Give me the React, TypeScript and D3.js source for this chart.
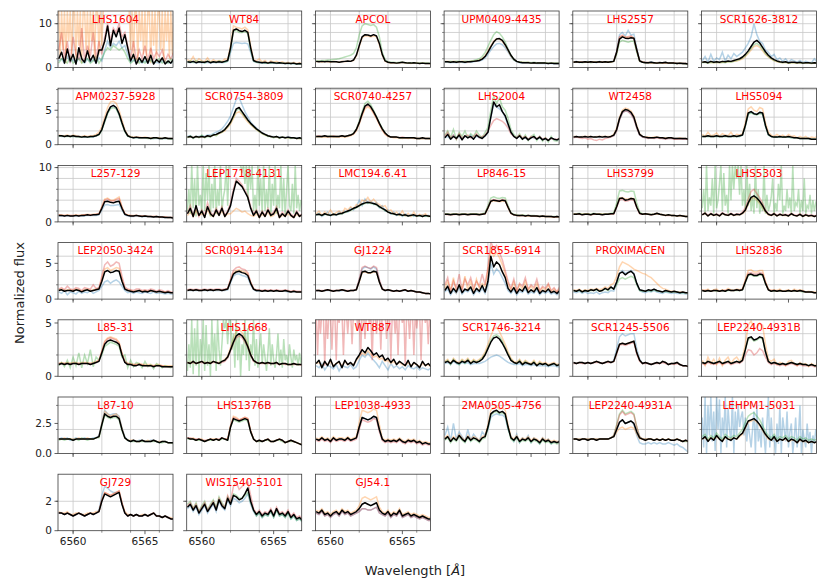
import * as d3 from 'd3';

// H-alpha profiles, one panel per star, flux values are x10
const panelNames = [
  'LHS1604', 'WT84', 'APCOL', 'UPM0409-4435', 'LHS2557', 'SCR1626-3812',
  'APM0237-5928', 'SCR0754-3809', 'SCR0740-4257', 'LHS2004', 'WT2458', 'LHS5094',
  'L257-129', 'LEP1718-4131', 'LMC194.6.41', 'LP846-15', 'LHS3799', 'LHS5303',
  'LEP2050-3424', 'SCR0914-4134', 'GJ1224', 'SCR1855-6914', 'PROXIMACEN', 'LHS2836',
  'L85-31', 'LHS1668', 'WT887', 'SCR1746-3214', 'SCR1245-5506', 'LEP2240-4931B',
  'L87-10', 'LHS1376B', 'LEP1038-4933', '2MA0505-4756', 'LEP2240-4931A', 'LEHPM1-5031',
  'GJ729', 'WIS1540-5101', 'GJ54.1',
];

const rowYMax = [12.9, 8.2, 10.4, 7.9, 5.3, 4.7, 3.84];
const rowYTicks = [[0, 10], [0, 5], [0, 10], [0, 5], [0, 5], [0, 2.5], [0, 2]];
const rowTickFormat = ['d', 'd', 'd', 'd', 'd', '.1f', 'd'];
const xTicks = [6560, 6565];
const waveStart = 6559;
const waveEnd = 6567;

const medianFlux: number[][] = [
  [20,35,10,42,15,30,8,45,20,12,38,15,28,10,40,40,60,95,50,85,70,90,55,75,45,15,30,8,22,12,25,10,28,8,18,12,22,8,15,10,20],
  [13,12,14,11,13,12,12,14,11,13,12,13,12,14,16,45,85,88,84,82,85,80,45,16,13,12,11,12,10,12,11,10,11,10,9,10,9,10,8,9,8],
  [14,13,14,13,14,13,13,13,12,13,14,15,14,17,28,50,70,75,74,72,75,72,55,30,15,12,11,11,10,11,12,11,10,10,11,10,9,10,9,9,9],
  [13,13,12,13,12,13,13,12,13,13,14,15,16,19,25,35,47,58,65,66,62,52,40,28,19,14,12,11,11,11,10,11,10,10,10,10,9,10,9,9,9],
  [12,13,12,12,13,12,13,12,12,13,12,13,12,13,14,35,65,70,67,66,68,67,40,15,12,11,11,12,11,10,11,11,12,10,10,10,9,10,9,9,8],
  [12,13,11,14,12,13,12,14,13,15,14,16,18,20,24,30,38,48,58,62,56,46,36,28,22,18,15,13,12,13,11,12,12,11,12,10,11,11,10,11,10],
  [13,13,12,13,12,13,12,12,11,12,11,12,12,13,15,22,35,47,55,57,54,45,32,20,13,11,10,11,10,10,10,10,9,10,10,9,9,10,9,9,9],
  [11,12,10,12,11,12,11,13,12,14,15,17,19,22,27,33,42,52,54,48,42,36,31,27,23,20,17,15,13,12,11,12,10,11,10,11,10,10,9,10,9],
  [12,12,12,13,12,12,12,12,12,13,12,13,14,16,22,32,45,56,59,55,48,40,31,23,17,13,11,11,11,10,10,10,10,10,10,9,9,10,9,9,9],
  [10,15,8,12,9,14,7,13,10,12,8,14,11,9,13,18,40,62,55,58,48,42,30,18,12,9,13,8,11,7,10,12,8,11,7,9,6,10,8,7,9],
  [11,12,11,11,12,11,12,11,11,12,11,12,11,12,14,22,38,48,51,50,47,40,26,15,12,11,10,10,10,11,10,10,9,10,10,9,9,9,9,9,8],
  [12,12,13,12,12,13,12,12,13,12,12,13,12,13,14,28,46,48,45,44,47,46,28,15,12,11,11,12,11,11,12,11,10,10,9,9,9,9,8,8,8],
  [12,12,11,12,11,11,12,11,12,12,13,12,13,13,14,25,37,38,36,35,37,38,25,14,12,11,11,12,11,10,11,10,10,9,10,9,9,8,8,8,7],
  [15,25,10,30,12,20,8,28,15,10,22,12,25,10,18,30,55,75,70,65,55,45,25,12,20,8,18,10,22,12,15,25,8,15,10,20,12,8,18,10,14],
  [13,14,12,15,13,12,14,13,15,16,18,20,22,25,27,30,33,35,36,35,34,32,28,25,22,18,16,15,13,14,12,13,11,12,13,11,12,10,12,11,10],
  [14,14,13,14,14,13,14,14,13,14,14,14,13,14,15,26,38,40,39,38,40,39,27,16,13,12,12,12,11,12,11,11,11,10,11,10,10,10,9,10,9],
  [14,14,15,13,14,14,13,15,14,14,13,14,14,15,15,28,43,44,40,41,43,42,27,16,14,15,14,13,14,16,14,13,12,13,12,12,11,12,11,10,10],
  [13,16,11,15,12,14,11,16,13,12,15,12,14,13,16,22,35,45,48,44,38,30,20,14,12,15,11,14,12,13,11,15,12,11,14,10,13,11,12,10,12],
  [12,13,11,12,12,11,13,12,10,12,13,11,12,13,14,25,38,40,37,38,40,39,25,14,12,11,10,11,12,10,11,10,12,11,10,11,10,9,10,9,9],
  [12,13,12,13,12,12,13,12,13,12,13,13,12,13,14,25,35,38,39,37,36,33,22,14,12,12,11,12,11,12,11,12,11,11,12,11,10,11,10,10,10],
  [12,12,11,12,13,12,11,12,12,13,12,11,12,12,13,25,38,39,37,37,39,38,24,14,12,13,12,11,12,11,12,13,11,12,11,10,10,9,8,8,7],
  [12,18,8,15,10,20,9,14,12,17,8,15,11,19,10,25,60,45,52,48,38,30,15,10,16,8,14,11,18,9,13,10,16,8,12,10,14,9,11,8,12],
  [12,11,13,10,12,11,13,12,14,11,12,15,13,17,14,24,36,38,34,37,39,35,22,13,12,11,13,12,14,12,11,10,12,11,10,11,10,9,10,9,9],
  [12,11,12,11,12,12,11,12,11,13,12,12,13,12,13,24,34,35,33,33,35,34,22,13,11,12,11,12,11,11,12,11,12,11,12,11,10,10,10,9,9],
  [11,12,11,12,11,12,12,11,12,12,12,11,12,13,14,22,30,33,34,33,32,30,20,13,11,11,10,10,11,10,10,10,10,9,10,10,9,9,9,9,9],
  [13,12,14,12,13,14,12,13,12,14,13,12,14,15,18,25,32,38,40,38,34,28,20,15,13,12,13,12,13,12,12,13,11,12,12,11,11,12,11,11,11],
  [12,15,8,14,10,16,9,12,14,8,15,11,13,10,16,20,25,22,27,24,20,22,18,20,15,17,13,16,11,14,12,10,15,9,13,11,8,14,10,12,9],
  [13,14,12,15,13,12,14,13,15,12,14,13,14,16,20,26,32,36,37,35,31,26,20,15,13,12,14,11,13,12,11,13,10,12,11,12,10,11,12,10,11],
  [13,12,13,13,12,13,12,13,14,13,12,13,14,13,14,22,30,31,30,31,32,33,22,15,12,13,12,11,12,13,12,14,13,11,12,12,13,11,10,10,9],
  [13,12,14,13,12,13,14,12,13,14,12,13,14,13,15,25,36,37,34,35,37,36,23,14,12,13,12,11,12,11,12,13,12,11,12,11,11,10,11,10,10],
  [12,12,12,12,12,11,12,12,12,12,12,12,12,13,14,24,33,31,30,31,31,29,20,13,11,10,11,10,10,11,10,10,10,11,10,9,10,10,9,9,9],
  [13,12,12,11,12,11,10,11,12,11,12,11,13,12,11,22,29,28,27,28,29,28,18,12,10,11,10,11,12,10,10,11,12,11,9,10,11,10,9,8,7],
  [12,11,13,11,12,10,13,11,12,12,11,13,11,12,13,22,30,29,28,29,31,30,20,12,10,11,10,11,10,12,10,9,11,10,11,9,10,8,9,8,8],
  [12,14,10,13,11,15,12,10,14,11,13,12,10,13,14,22,33,35,36,34,35,33,22,13,11,14,10,12,11,13,10,12,11,9,12,10,11,9,10,9,10],
  [12,12,11,12,12,11,12,12,11,12,12,12,12,13,14,20,26,28,25,26,27,25,18,13,12,11,12,12,11,12,11,12,11,12,11,11,12,11,10,11,10],
  [12,14,10,13,11,15,12,10,14,12,11,13,12,15,17,22,27,28,29,27,24,20,16,13,11,14,10,12,11,13,10,12,11,9,12,10,11,9,10,9,10],
  [12,12,11,12,11,10,11,12,11,10,11,12,11,12,13,20,25,24,23,24,25,26,18,12,10,11,10,11,10,10,11,10,11,12,10,10,9,10,9,8,8],
  [16,18,14,17,12,15,18,13,16,19,14,21,17,15,22,18,24,23,21,22,25,29,20,14,11,13,10,12,11,14,10,15,11,12,10,13,9,11,8,9,7],
  [13,12,14,11,12,10,12,13,11,14,12,13,11,12,13,15,18,19,18,17,18,19,14,12,11,13,10,12,11,14,10,11,12,10,11,10,9,10,9,8,8],
];

const blueFlux: number[][] = [
  [15,20,10,25,12,18,10,22,15,10,20,12,18,10,22,15,40,60,45,55,50,60,45,50,30,12,18,10,15,10,15,10,18,10,12,10,15,10,12,10,15],
  [12,11,13,10,12,11,11,12,10,12,11,12,11,12,14,35,55,57,56,55,56,54,35,14,12,11,10,11,10,11,10,9,10,9,9,9,8,9,8,8,8],
  [],
  [12,12,11,12,11,12,12,11,12,12,13,14,15,17,22,30,40,48,54,55,52,45,35,25,17,13,11,10,10,10,10,10,9,9,9,9,9,9,8,8,8],
  [12,14,11,13,12,14,12,13,11,14,12,13,12,14,15,38,75,80,72,85,74,76,45,16,12,12,11,13,10,11,12,10,11,10,10,9,10,9,9,8,8],
  [15,25,12,30,14,22,18,35,15,28,20,32,25,30,35,45,55,70,100,75,60,55,40,35,25,30,18,22,14,20,12,18,15,12,16,11,14,12,11,20,12],
  [13,12,12,13,12,12,12,12,11,11,11,12,11,13,15,22,34,46,54,56,53,44,31,20,13,11,10,10,10,10,10,10,9,9,9,9,9,9,9,9,8],
  [12,13,11,12,12,13,12,14,14,16,18,20,23,28,34,42,54,66,68,58,48,40,33,28,24,20,17,15,13,12,12,11,11,11,10,11,10,10,10,10,9],
  [],
  [10,12,8,14,10,12,9,12,10,14,9,12,10,11,12,18,40,58,55,52,48,40,28,18,12,10,12,9,10,8,10,10,8,10,8,9,7,9,8,7,8],
  [11,11,11,11,11,11,11,11,11,11,11,11,11,12,13,21,36,46,49,48,45,38,25,14,11,10,10,10,10,10,10,9,9,9,9,9,9,9,8,8,8],
  [12,12,12,12,12,12,12,12,12,12,12,12,12,12,14,27,45,47,45,44,46,45,27,14,12,11,11,11,11,11,11,10,10,10,9,9,9,9,8,8,8],
  [11,11,11,11,11,11,11,11,11,11,12,12,12,12,13,22,31,32,30,30,31,32,22,13,11,10,10,11,10,10,10,10,9,9,9,9,8,8,8,8,7],
  [],
  [12,16,10,14,18,11,15,12,18,14,20,18,26,22,28,40,30,42,34,38,32,36,26,30,20,22,14,18,12,16,10,15,12,14,10,12,11,13,10,12,9],
  [],
  [],
  [],
  [10,8,12,6,10,9,7,11,8,10,9,12,8,10,12,18,24,26,22,25,27,24,18,12,9,10,8,10,9,8,10,9,8,10,8,9,8,7,8,7,7],
  [12,12,12,12,12,12,12,12,12,12,12,12,12,12,13,23,32,35,35,33,32,30,20,13,11,11,11,11,11,11,11,11,11,11,11,10,10,10,10,10,10],
  [11,12,11,12,12,12,11,12,11,12,12,11,12,12,13,27,42,45,44,42,45,42,26,14,12,12,12,11,12,11,12,12,11,11,11,10,10,9,8,8,7],
  [10,14,6,12,8,16,7,12,10,14,6,12,9,15,8,20,50,35,42,38,30,22,12,8,13,6,11,9,14,7,10,8,13,6,10,8,11,7,9,6,10],
  [10,9,11,8,10,8,9,8,10,7,9,10,9,12,11,22,36,40,36,38,40,36,22,12,10,9,11,10,12,10,9,8,10,9,8,9,8,8,8,7,7],
  [],
  [],
  [],
  [10,8,12,6,10,9,7,11,5,10,9,8,11,7,9,15,20,18,22,18,15,12,8,14,10,6,12,8,10,7,9,6,10,8,7,9,6,8,7,6,8],
  [12,13,11,14,12,11,13,12,13,11,12,12,12,13,14,16,18,19,20,19,17,15,13,12,11,11,12,10,11,11,10,11,10,10,10,10,9,10,10,9,9],
  [13,12,13,13,12,13,12,13,14,13,12,13,14,13,15,26,37,40,38,39,40,40,26,16,12,13,12,11,12,13,12,14,13,11,12,12,13,11,10,10,9],
  [],
  [12,13,12,13,11,12,13,12,12,13,12,12,13,13,15,25,36,33,32,33,33,31,21,14,11,10,11,10,11,11,10,10,11,11,10,9,10,10,9,9,9],
  [],
  [12,11,13,11,12,10,13,11,12,12,11,13,11,12,13,22,30,29,28,29,30,29,20,12,10,11,10,11,10,12,10,9,11,10,11,9,10,8,9,8,8],
  [15,22,10,25,12,18,14,10,20,11,16,13,10,18,15,20,30,32,33,32,32,30,20,14,10,16,9,13,11,15,9,13,11,8,13,10,12,8,10,9,11],
  [12,12,11,12,12,11,12,12,11,12,12,12,12,13,14,20,26,28,25,26,27,24,15,9,8,8,9,8,9,8,9,8,8,9,8,7,8,6,5,3,1],
  [30,5,47,0,40,15,47,10,35,2,47,20,45,0,30,15,47,5,38,20,10,47,0,35,15,40,22,30,35,15,30,10,25,15,5,20,35,0,40,10,20,5,30,15,0,25,47,5,30,10,15,0,25,8,40,0,30,20,10,35,5,18,25,0,12,30,5,15,40,0,20,12,5,25,10,18,0,15,8,20,12],
  [12,12,11,12,11,10,11,12,11,10,11,12,11,12,14,24,30,29,27,26,26,26,18,12,10,11,10,11,10,10,11,10,11,12,10,10,9,10,9,8,8],
  [15,17,13,16,11,14,17,12,15,18,13,20,16,14,21,17,22,21,19,20,22,25,18,13,10,12,9,11,10,13,9,14,10,11,9,12,8,10,7,8,6],
  [12,11,13,10,11,9,11,12,10,13,11,12,10,11,12,13,15,15,14,14,15,16,12,11,10,12,9,11,10,13,9,10,11,9,10,9,8,9,8,7,7],
];

const orangeFlux: number[][] = [
  [130,20,130,40,130,10,130,60,130,30,130,130,20,130,50,130,10,130,130,40,130,20,130,60,130,15,130,130,30,130,50,130,130,130,130,130,130,130,130,130,130,130,130,130,130,130,130,130,130,130,40,130,20,130,130,10,130,60,130,30,130,25,130,130,10,130,50,130,20,130,130,40,130,15,130,60,130,20,130,30,130],
  [18,14,25,12,20,15,13,22,12,18,14,16,13,20,18,50,95,92,90,88,92,86,50,18,15,20,12,16,10,15,12,14,11,13,10,12,9,12,9,11,8],
  [13,14,12,14,13,12,14,13,12,14,13,14,14,16,26,48,68,72,72,70,72,70,52,28,14,12,10,11,10,10,12,10,10,9,10,10,9,10,9,9,8],
  [13,14,12,14,13,12,14,13,12,14,14,15,17,20,27,38,50,60,66,65,60,50,38,26,18,14,12,12,11,12,10,11,10,11,10,10,9,10,9,9,9],
  [13,12,13,12,12,13,12,13,12,12,13,12,13,12,15,34,68,72,70,68,70,68,40,15,13,11,12,11,11,11,11,10,11,10,10,10,9,10,9,9,8],
  [12,12,11,12,11,12,11,12,12,13,13,14,15,17,20,25,32,40,48,50,46,38,30,24,19,16,13,12,11,12,10,11,11,10,11,10,10,10,9,10,9],
  [14,13,13,14,12,14,13,12,12,13,12,13,13,15,18,26,40,54,62,63,60,50,36,22,14,12,11,11,11,10,11,10,10,10,10,10,9,10,9,9,9],
  [11,12,11,12,11,12,11,13,12,14,14,16,18,20,25,30,38,46,48,44,38,33,29,25,22,19,16,14,13,12,11,11,10,11,10,10,10,10,9,9,9],
  [11,12,11,12,11,12,11,11,11,12,11,12,13,15,20,30,42,52,55,52,45,38,29,21,15,12,11,10,10,10,9,10,9,10,9,9,9,9,9,9,8],
  [],
  [12,12,11,12,12,12,12,11,12,12,12,12,12,12,15,24,40,50,53,52,49,42,28,16,12,11,11,10,11,11,10,10,10,10,10,9,9,10,9,9,8],
  [15,12,18,13,14,17,12,16,14,13,18,12,15,14,16,32,52,55,50,48,54,52,32,18,14,12,15,12,14,11,15,12,13,10,12,10,12,9,11,10,12],
  [13,13,12,13,12,12,13,12,13,13,14,13,14,14,15,28,42,44,40,40,43,46,28,15,13,12,12,12,11,11,11,10,10,10,10,9,9,9,8,8,8],
  [12,18,10,20,12,15,10,22,12,10,18,12,20,10,15,15,20,25,22,18,20,15,12,10,15,8,14,10,18,10,12,20,8,12,10,15,10,8,14,10,12],
  [15,20,12,18,14,22,13,17,20,15,25,22,28,24,32,30,40,38,45,36,42,35,32,28,30,20,22,15,18,12,20,11,16,10,18,10,14,12,15,10,12],
  [14,14,13,14,14,13,14,14,13,14,14,14,13,14,15,25,37,39,38,37,38,38,26,15,13,12,11,12,11,11,11,11,10,10,10,10,10,9,9,9,9],
  [14,15,14,14,14,15,13,14,14,15,14,14,14,15,15,29,44,45,42,42,44,43,28,16,14,15,14,13,14,16,14,13,12,13,12,12,11,12,11,10,10],
  [13,15,11,14,12,13,11,15,13,12,14,12,13,13,15,20,32,42,45,40,34,26,18,13,12,14,11,13,12,12,11,14,12,11,13,10,12,11,11,10,11],
  [13,14,12,13,13,12,14,13,11,13,14,12,13,14,15,28,42,44,40,42,44,43,28,15,13,12,11,12,12,11,12,11,12,11,10,11,10,10,10,9,9],
  [12,13,12,13,12,12,13,12,13,12,13,13,12,13,14,26,37,40,41,39,38,35,23,14,12,12,11,12,11,12,11,12,11,11,12,11,10,11,10,10,10],
  [12,12,11,12,13,12,11,12,12,13,12,11,12,12,13,24,37,38,36,36,38,37,24,14,12,13,12,11,12,11,12,13,11,12,11,10,10,9,8,8,7],
  [15,25,12,30,10,20,15,32,12,25,10,28,15,22,18,40,70,60,65,58,48,35,22,12,24,10,20,14,25,12,18,12,22,10,16,12,20,10,14,10,15],
  [13,12,14,11,13,12,14,13,15,13,14,17,15,20,22,32,45,52,50,48,45,42,40,38,36,35,32,30,26,22,18,15,14,12,11,11,10,10,10,9,9],
  [13,12,14,11,13,14,11,13,12,15,13,12,14,13,14,27,40,41,38,38,40,40,25,14,12,13,12,14,11,12,13,11,14,12,13,12,10,11,10,10,10],
  [12,13,12,13,12,13,13,12,13,13,13,12,13,14,15,24,33,36,37,36,35,32,22,14,12,12,11,11,12,11,11,11,11,10,11,11,10,10,10,10,10],
  [13,13,14,12,13,14,13,13,13,14,13,13,14,16,19,27,35,42,44,41,36,30,21,15,13,12,13,12,13,12,12,13,11,12,12,11,11,12,11,11,11],
  [12,13,10,13,11,14,10,12,13,10,14,11,12,11,15,18,22,20,24,21,18,19,16,17,14,15,12,14,11,13,11,10,13,10,12,11,9,12,10,11,9],
  [14,16,12,17,14,13,16,14,17,13,16,14,16,18,23,30,38,44,46,42,36,30,23,17,14,13,16,12,15,13,12,15,11,14,12,13,11,12,13,11,12],
  [13,12,13,13,12,13,12,13,14,13,12,13,14,13,14,22,30,31,30,31,32,33,22,15,12,13,12,11,12,13,12,14,13,11,12,12,13,11,10,10,9],
  [15,10,18,12,16,11,17,10,15,18,12,16,18,14,18,30,48,52,45,46,50,48,30,16,14,16,11,13,12,10,14,15,12,10,13,11,12,9,12,10,11],
  [12,12,13,12,12,12,12,13,12,12,13,12,12,13,14,25,35,33,31,32,33,30,21,13,11,11,11,10,10,11,10,11,10,11,10,10,10,10,9,9,9],
  [13,12,13,11,12,12,10,11,12,12,12,11,13,12,12,23,31,30,28,29,30,29,19,12,10,11,10,11,12,10,10,11,12,11,9,10,11,10,9,8,8],
  [13,12,14,12,13,11,14,12,13,13,12,14,12,13,14,26,36,35,34,35,37,36,24,13,11,12,11,12,11,13,11,10,12,11,12,10,11,9,10,9,9],
  [13,15,11,14,12,16,13,11,15,12,14,13,11,14,15,24,36,38,39,37,38,36,24,14,12,15,11,13,12,14,11,13,12,10,13,11,12,10,11,10,10],
  [12,12,11,12,12,11,12,12,11,12,12,12,12,13,14,18,21,22,20,21,22,21,16,12,12,11,12,12,11,12,11,12,11,12,11,11,12,11,10,11,10],
  [12,13,11,13,12,14,12,11,13,12,12,13,12,14,16,21,26,27,28,26,23,19,15,12,11,13,10,12,11,12,10,11,11,9,11,10,10,9,10,9,9],
  [13,12,12,13,11,11,12,12,11,11,12,12,12,13,13,21,26,25,24,25,26,27,19,13,11,11,10,11,10,11,11,10,11,12,10,10,9,10,9,9,8],
  [],
  [14,13,15,12,13,11,13,14,12,15,13,14,12,13,14,17,22,23,22,21,22,23,16,13,12,14,11,13,12,15,11,12,13,11,12,11,10,11,10,9,9],
];

const greenFlux: number[][] = [
  [10,20,15,10,25,10,15,20,10,15,20,10,15,25,10,20,35,45,40,50,45,40,45,35,20,10,15,20,10,15,10,20,15,10,15,20,10,15,10,20,10],
  [12,15,11,16,12,14,10,15,12,13,11,15,13,12,15,42,82,85,80,80,82,78,40,15,12,11,12,10,11,10,12,10,10,10,9,9,9,9,8,8,8],
  [15,15,16,16,17,17,18,19,20,22,24,26,28,32,45,75,95,100,98,96,98,92,70,35,18,13,12,12,11,12,12,11,11,11,11,10,10,10,10,10,9],
  [14,13,14,13,14,14,13,14,14,15,16,18,20,25,34,48,62,75,82,78,70,58,42,28,18,14,13,12,12,12,11,12,11,11,11,11,10,10,10,10,10],
  [12,12,13,11,12,13,11,12,13,12,12,12,13,12,14,30,58,62,60,58,60,60,35,14,12,11,11,11,10,11,10,11,10,10,10,9,9,9,9,8,8],
  [11,12,10,12,11,12,11,12,11,13,12,14,16,18,22,27,35,44,52,55,50,42,32,25,20,16,14,12,11,12,10,11,11,10,10,10,10,10,9,10,9],
  [12,13,12,12,12,12,12,11,11,12,11,11,12,13,14,21,33,45,52,54,52,43,30,19,12,11,10,10,10,10,10,9,9,9,10,9,9,9,9,8,9],
  [10,13,9,12,10,14,10,12,11,15,13,17,18,22,26,32,40,50,52,46,40,35,30,26,22,19,16,14,12,12,10,12,9,11,10,10,9,10,9,9,8],
  [12,12,12,12,12,13,12,12,12,13,12,13,14,17,23,34,48,60,63,58,50,41,32,24,17,13,11,11,11,10,10,10,10,10,10,9,9,9,9,9,9],
  [14,20,10,22,8,18,12,20,10,16,12,20,14,10,18,25,50,70,60,68,55,50,38,22,15,10,16,8,14,6,12,15,6,12,5,10,4,12,6,5,10],
  [],
  [12,12,12,12,12,12,12,12,12,12,12,12,12,12,14,27,44,46,44,43,45,44,27,14,12,11,11,11,11,11,11,10,10,10,9,9,9,9,8,8,8],
  [],
  [20,60,15,105,25,80,10,105,30,50,15,105,20,90,40,105,10,70,25,105,15,60,30,105,20,45,60,105,30,105,105,105,105,105,105,105,105,105,90,105,70,105,40,105,60,105,20,50,15,105,30,80,15,105,20,60,25,105,10,70,30,105,15,50,25,105,20,80,10,60,105,30,20,70,15,105,25,50,20,40,30],
  [13,14,12,14,13,12,14,13,14,15,17,19,21,24,26,29,32,34,35,34,33,31,27,24,21,18,16,14,13,13,12,12,11,12,12,11,11,10,11,10,10],
  [15,15,14,15,15,14,15,15,14,15,15,15,14,15,17,30,44,46,44,43,45,44,30,17,14,13,12,13,12,12,12,12,11,11,11,10,10,10,10,10,9],
  [15,15,16,14,15,15,14,16,15,15,14,15,15,16,17,35,57,58,56,55,57,56,35,18,15,15,14,14,14,15,14,13,12,13,12,12,11,11,11,10,10],
  [25,60,15,105,20,45,30,80,15,105,25,40,70,105,20,90,30,50,15,105,40,105,60,105,80,105,50,105,30,60,20,105,30,70,20,45,15,105,25,60,15,35,20,105,15,50,20,30,45,80,15,35,20,70,40,105,15,30,20,60,25,45,15,105,20,35,30,60,15,40,20,80,15,30,25,50,15,40,20,35,30],
  [],
  [],
  [],
  [],
  [12,11,12,10,12,11,12,12,13,11,12,14,12,16,14,20,28,30,28,30,32,30,20,12,11,11,12,11,13,11,11,10,11,10,10,10,10,9,9,9,9],
  [12,11,12,11,12,11,11,12,11,12,12,12,12,12,13,23,33,34,32,32,34,33,21,13,11,11,11,11,11,11,11,11,11,11,11,10,10,10,10,9,9],
  [10,13,9,15,8,18,10,22,8,20,12,25,9,18,15,20,28,30,32,31,30,28,18,20,8,15,9,13,12,8,14,9,11,7,12,10,8,10,9,8,10],
  [5,30,8,53,2,45,10,53,0,35,15,53,5,48,10,30,0,53,15,40,5,53,25,10,30,53,45,53,30,53,52,25,40,8,53,15,40,0,30,20,53,15,45,5,30,20,53,10,35,8,25,40,12,30,18,5,22,45,10,30,15,8,20,40,12,25,8,35,15,20,10,30,18,8,25,15,20,10,22,12,20],
  [],
  [13,15,11,16,13,11,15,12,16,12,15,13,15,17,21,27,34,38,39,37,33,27,21,16,13,12,15,11,14,12,11,14,10,13,11,12,10,11,12,10,11],
  [],
  [13,12,14,13,12,13,14,12,13,14,12,13,14,13,15,25,35,36,33,34,36,35,23,14,12,13,12,11,12,11,12,13,12,11,12,11,11,10,11,10,10],
  [11,12,11,12,12,11,12,11,13,12,11,12,12,13,13,23,32,30,29,30,30,28,19,13,11,10,10,10,10,10,10,10,10,10,10,9,9,10,9,9,8],
  [12,12,12,11,11,11,10,11,11,11,12,11,12,12,11,22,28,27,26,27,28,27,18,12,10,10,10,11,11,10,10,11,11,10,9,10,10,10,9,8,7],
  [],
  [11,13,9,12,10,14,11,9,13,10,12,11,9,12,13,21,32,34,35,33,34,32,21,12,10,13,9,11,10,12,9,11,10,8,11,9,10,8,9,8,9],
  [12,12,12,12,12,12,12,12,12,12,12,12,12,13,15,24,33,36,33,34,35,33,22,14,12,12,12,12,11,12,11,12,11,12,11,11,12,11,10,10,10],
  [14,16,12,15,13,17,14,12,16,14,13,15,14,17,20,26,31,33,34,31,28,23,18,15,13,16,12,14,13,15,12,14,13,11,14,12,13,11,12,11,12],
  [],
  [18,20,15,19,13,17,20,14,18,21,16,23,19,16,23,19,25,24,22,22,24,26,19,14,10,12,9,11,10,13,9,14,10,11,9,12,8,10,7,8,6],
  [],
];

const redFlux: number[][] = [
  [40,80,20,60,10,70,30,20,90,15,50,25,80,20,60,30,70,100,60,90,80,100,70,80,50,20,60,15,40,20,50,15,45,20,35,25,40,15,30,20,35],
  [],
  [],
  [],
  [12,13,12,13,12,12,13,12,12,13,12,13,12,13,14,36,70,74,68,70,72,66,40,15,12,12,11,11,11,10,12,10,11,10,10,10,9,9,9,9,8],
  [],
  [],
  [],
  [12,13,12,12,12,12,13,12,12,13,12,13,14,16,22,32,44,54,57,54,47,39,30,22,16,13,11,11,11,10,11,10,10,10,10,9,9,9,9,9,9],
  [12,18,10,14,8,16,10,12,14,10,12,16,10,12,14,20,28,35,38,36,34,30,24,16,12,10,14,10,12,8,12,10,9,12,8,10,7,9,8,8,8],
  [10,11,10,9,10,8,9,7,6,8,7,9,10,11,13,20,36,46,49,48,44,37,24,14,11,10,9,10,9,10,9,9,8,9,9,8,8,8,8,8,8],
  [],
  [13,12,12,12,12,12,12,12,12,13,13,13,13,14,15,27,40,42,39,38,41,43,27,15,12,12,11,12,11,11,11,10,10,10,10,9,9,9,8,8,8],
  [15,30,12,25,10,22,12,35,18,12,25,15,28,12,20,35,60,80,75,68,58,48,28,15,22,10,20,12,25,14,18,28,10,18,12,22,14,10,20,12,15],
  [],
  [14,13,14,13,14,14,13,14,14,13,14,13,14,14,15,27,39,41,40,39,41,40,27,16,13,12,12,12,11,12,11,11,11,10,11,10,10,10,9,10,9],
  [14,14,14,13,14,14,13,14,14,14,13,14,14,14,15,27,40,42,38,39,41,40,26,15,14,14,14,13,14,15,14,13,12,12,12,12,11,11,11,10,10],
  [14,17,12,16,13,15,12,17,14,13,16,13,15,14,18,26,42,56,60,52,44,34,22,15,13,16,12,15,13,14,12,16,13,12,15,11,14,12,13,11,13],
  [14,16,13,18,14,13,16,15,12,16,15,14,20,15,16,32,48,52,46,48,52,50,32,17,14,13,12,14,14,12,13,12,14,13,11,13,12,10,12,10,10],
  [13,14,13,14,13,13,14,13,14,13,14,14,13,14,15,28,40,44,45,42,41,37,24,15,13,13,12,13,12,13,12,13,12,12,13,12,11,12,11,11,11],
  [12,12,12,12,13,12,12,12,12,13,12,12,12,12,14,28,44,46,44,43,46,44,27,15,12,13,12,11,12,11,12,13,11,12,11,10,10,9,8,8,7],
  [20,30,10,25,15,35,12,28,20,30,15,25,18,35,20,45,80,70,75,65,55,40,25,15,28,12,22,18,30,14,20,16,28,12,18,15,22,12,16,10,18],
  [],
  [12,12,12,11,12,12,11,12,12,13,12,12,13,12,14,25,36,37,35,35,37,36,23,13,12,12,11,12,11,11,12,11,12,11,12,11,10,10,10,9,9],
  [12,12,12,12,12,12,12,12,12,12,12,12,12,13,15,23,32,35,36,35,34,31,21,14,12,11,11,11,11,11,10,10,10,10,10,10,10,9,9,9,9],
  [13,12,13,12,13,13,12,13,12,13,13,12,13,14,17,24,31,36,38,36,32,27,19,14,13,12,12,12,12,12,12,12,11,12,11,11,11,11,11,11,10],
  [60,20,60,40,60,60,10,60,35,60,60,25,60,60,15,60,50,60,60,20,60,60,40,60,60,30,60,60,60,45,60,20,60,60,35,60,60,50,60,15,60,60,40,60,60,25,60,60,60,35,60,60,15,60,60,40,60,20,60,60,50,60,10,60,60,35,60,60,20,60,45,60,60,15,60,60,50,60,30,60,40],
  [],
  [12,12,13,12,12,13,12,13,13,13,12,13,13,13,14,21,29,30,29,30,31,32,21,14,12,12,12,11,12,12,12,13,12,11,12,11,12,11,10,10,9],
  [12,11,13,12,11,12,13,11,12,13,11,12,13,12,14,20,25,24,20,22,26,24,18,13,11,12,11,10,11,10,11,12,11,10,11,10,10,10,10,9,9],
  [],
  [13,13,12,12,12,11,11,11,12,11,12,12,13,12,12,23,30,29,28,29,30,29,19,12,10,11,10,11,12,10,10,11,12,11,9,10,11,10,9,8,7],
  [11,10,12,10,11,9,12,10,11,11,10,12,10,11,12,20,28,27,26,27,29,28,18,11,9,10,9,10,9,11,9,8,10,9,10,8,9,7,8,7,7],
  [],
  [12,12,12,12,12,12,12,12,12,12,12,12,12,13,15,23,32,35,32,33,34,32,22,14,12,12,12,12,11,12,11,12,11,12,11,11,12,11,10,11,10],
  [],
  [12,12,11,12,11,10,11,12,11,10,11,12,11,12,13,21,26,25,24,25,26,27,19,12,10,11,10,11,10,10,11,10,11,12,10,10,9,10,9,8,8],
  [17,19,15,18,13,16,19,14,17,20,15,22,18,16,24,20,30,33,28,30,32,33,24,15,12,14,11,13,12,15,11,16,12,13,11,14,10,12,9,10,8],
  [12,11,13,10,11,9,11,12,10,13,11,12,10,11,12,13,15,15,14,14,15,16,12,11,10,12,9,11,10,13,9,10,11,9,10,9,8,9,8,7,7],
];

const colorSeries = [
  { flux: blueFlux, color: '#1f77b4' },
  { flux: orangeFlux, color: '#ff7f0e' },
  { flux: greenFlux, color: '#2ca02c' },
  { flux: redFlux, color: '#d62728' },
];

const width = 830;
const height = 586;
const nCols = 6;
const left0 = 58;
const top0 = 11;
const colPitch = 128.7;
const rowPitch = 77.2;
const panelW = 115;
const panelH = 56.5;
const font = 'DejaVu Sans, sans-serif';

const x = d3.scaleLinear().domain([6558.95, 6566.95]).range([0, panelW]);
const xGrid = [6560, 6562, 6564, 6566];
const lastRow = Math.floor((panelNames.length - 1) / nCols);

const Panel = ({ idx }: { idx: number }) => {
  const row = Math.floor(idx / nCols);
  const col = idx % nCols;
  const y = d3.scaleLinear().domain([0, rowYMax[row]]).range([panelH, 0]);
  const yGrid = d3.range(2, rowYMax[row], 2);
  const fmt = d3.format(rowTickFormat[row]);
  const line = d3
    .line<number>()
    .x((_, j, arr) => x(waveStart + ((waveEnd - waveStart) * j) / ((arr as number[]).length - 1)))
    .y(v => y(v / 10));
  const showXLabels = row === lastRow;

  return (
    <g transform={`translate(${left0 + col * colPitch},${top0 + row * rowPitch})`}>
      <defs>
        <clipPath id={`clip-${idx}`}>
          <rect width={panelW} height={panelH} />
        </clipPath>
      </defs>
      <rect width={panelW} height={panelH} fill="white" />
      {xGrid.map(g => (
        <line key={`gx${g}`} x1={x(g)} x2={x(g)} y1={0} y2={panelH} stroke="#c8c8c8" strokeWidth={0.8} />
      ))}
      {yGrid.map(g => (
        <line key={`gy${g}`} x1={0} x2={panelW} y1={y(g)} y2={y(g)} stroke="#c8c8c8" strokeWidth={0.8} />
      ))}
      <g clipPath={`url(#clip-${idx})`}>
        {colorSeries.map(s =>
          s.flux[idx] && s.flux[idx].length ? (
            <path key={s.color} d={line(s.flux[idx]) ?? ''} fill="none" stroke={s.color} strokeOpacity={0.33} strokeWidth={1.5} />
          ) : null
        )}
        <path d={line(medianFlux[idx]) ?? ''} fill="none" stroke="black" strokeWidth={1.5} strokeLinejoin="round" />
      </g>
      <rect width={panelW} height={panelH} fill="none" stroke="#3a3a3a" strokeWidth={0.8} />
      {/* minor ticks */}
      {xGrid.map(g => (
        <line key={`mx${g}`} x1={x(g)} x2={x(g)} y1={panelH} y2={panelH + 2} stroke="#3a3a3a" strokeWidth={0.6} />
      ))}
      {yGrid.map(g => (
        <line key={`my${g}`} x1={-2} x2={0} y1={y(g)} y2={y(g)} stroke="#3a3a3a" strokeWidth={0.6} />
      ))}
      {xTicks.map(t => (
        <g key={`xt${t}`}>
          <line x1={x(t)} x2={x(t)} y1={panelH} y2={panelH + 3.5} stroke="#3a3a3a" strokeWidth={0.8} />
          {showXLabels && (
            <text x={x(t)} y={panelH + 14} textAnchor="middle" fontSize={10.5} fontFamily={font} fill="#222">
              {t}
            </text>
          )}
        </g>
      ))}
      {rowYTicks[row].map(t => (
        <g key={`yt${t}`}>
          <line x1={-3.5} x2={0} y1={y(t)} y2={y(t)} stroke="#3a3a3a" strokeWidth={0.8} />
          {col === 0 && (
            <text x={-6} y={y(t)} dy="0.35em" textAnchor="end" fontSize={10.5} fontFamily={font} fill="#222">
              {fmt(t)}
            </text>
          )}
        </g>
      ))}
      <text x={panelW / 2} y={11.7} textAnchor="middle" fontSize={10.5} fontFamily={font} fill="#ff0000">
        {panelNames[idx]}
      </text>
    </g>
  );
};

export default function App() {
  return (
    <div style={{ position: 'absolute', left: 0, top: 0 }}>
      <svg width={width} height={height} style={{ display: 'block', background: 'white' }}>
        {panelNames.map((_, i) => (
          <Panel key={i} idx={i} />
        ))}
        <text
          transform={`translate(24,${height / 2}) rotate(-90)`}
          textAnchor="middle"
          fontSize={13}
          fontFamily={font}
          fill="#222"
        >
          Normalized flux
        </text>
        <text x={415} y={575} textAnchor="middle" fontSize={13} fontFamily={font} fill="#222">
          Wavelength [<tspan fontStyle="italic">Å</tspan>]
        </text>
      </svg>
    </div>
  );
}
